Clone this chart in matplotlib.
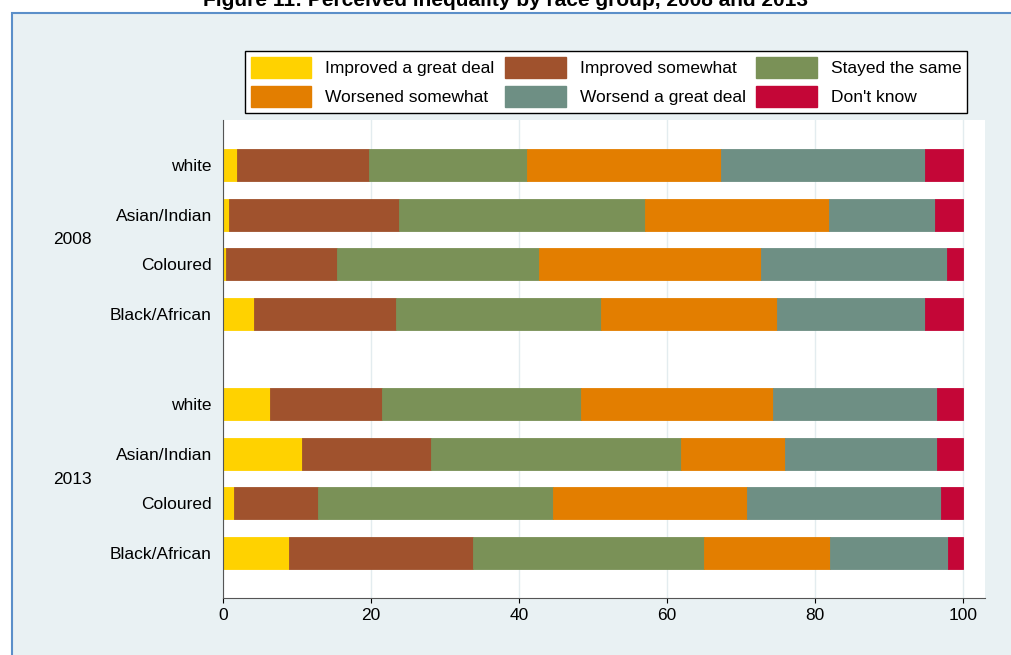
import matplotlib.pyplot as plt
from matplotlib.patches import Rectangle

categories = ["Improved a great deal", "Improved somewhat", "Stayed the same",
              "Worsened somewhat", "Worsend a great deal", "Don't know"]
colors = ["#FFD200", "#A0522D", "#7A9157", "#E37E00", "#6E8F84", "#C40637"]
races = ["white", "Asian/Indian", "Coloured", "Black/African"]
years = ["2008", "2013"]

# cumulative boundaries, per row (top to bottom)
bounds_2008 = [
    [1.9, 19.7, 41.1, 67.3, 94.9, 100],
    [0.8, 23.8, 57.0, 81.9, 96.2, 100],
    [0.4, 15.4, 42.7, 72.7, 97.8, 100],
    [4.2, 23.4, 51.1, 74.9, 94.9, 100],
]
bounds_2013 = [
    [6.4, 21.5, 48.4, 74.3, 96.5, 100],
    [10.7, 28.1, 61.9, 75.9, 96.5, 100],
    [1.5, 12.8, 44.6, 70.8, 97.0, 100],
    [8.9, 33.8, 65.0, 82.0, 98.0, 100],
]

fig = plt.figure(figsize=(10.11, 6.55), dpi=100)
fig.patch.set_facecolor("white")
fig.patches.append(Rectangle((12 / 1011, -0.01), 1.1, 1 - 13 / 655 + 0.01, transform=fig.transFigure,
                             facecolor="#E9F1F3", edgecolor="#5B8FC9", linewidth=1.5, zorder=-5))
fig.text(0.5, 1.0, "Figure 11: Perceived inequality by race group, 2008 and 2013",
         ha="center", va="center", fontsize=15, fontweight="bold", family="Liberation Sans")

ax = fig.add_axes([223 / 1011, 57 / 655, 762 / 1011, 478 / 655])
ax.set_facecolor("white")

ypos = [0, 1, 2, 3, 4.8, 5.8, 6.8, 7.8]
rows = bounds_2008 + bounds_2013
for y, b in zip(ypos, rows):
    left = 0
    for i, right in enumerate(b):
        ax.barh(y, right - left, left=left, height=0.64, color=colors[i],
                edgecolor=colors[i], linewidth=0.6)
        left = right

ax.set_ylim(8.7, -0.9)
ax.set_xlim(0, 103)
ax.set_yticks(ypos)
ax.set_yticklabels(races * 2, fontsize=12.5, family="Liberation Sans")
ax.set_xticks([0, 20, 40, 60, 80, 100])
ax.tick_params(axis="x", labelsize=12.5)
ax.tick_params(axis="y", length=0, pad=8)
for lab in ax.get_xticklabels():
    lab.set_family("Liberation Sans")
ax.grid(axis="x", color="#E3ECEF", linewidth=1)
ax.set_axisbelow(True)
for s in ["top", "right"]:
    ax.spines[s].set_visible(False)
ax.spines["left"].set_color("#555555")
ax.spines["bottom"].set_color("#555555")

fig.text(72 / 1011, 1 - 240 / 655, years[0], ha="center", va="center", fontsize=12.5, family="Liberation Sans")
fig.text(72 / 1011, 1 - 480 / 655, years[1], ha="center", va="center", fontsize=12.5, family="Liberation Sans")

handles = [Rectangle((0, 0), 1, 1, facecolor=c, edgecolor=c) for c in colors]
order = [0, 3, 1, 4, 2, 5]
leg = fig.legend([handles[i] for i in order], [categories[i] for i in order], ncol=3,
                 loc="center", bbox_to_anchor=(606 / 1011, 1 - 82 / 655),
                 frameon=True, fancybox=False, edgecolor="black", handlelength=3.5,
                 handleheight=1.5, columnspacing=0.6, labelspacing=0.45, borderpad=0.35,
                 prop={"family": "Liberation Sans", "size": 12.5})
leg.get_frame().set_linewidth(1)
leg.get_frame().set_facecolor("white")
leg.get_frame().set_alpha(1)

plt.savefig("out.png", dpi=100)
